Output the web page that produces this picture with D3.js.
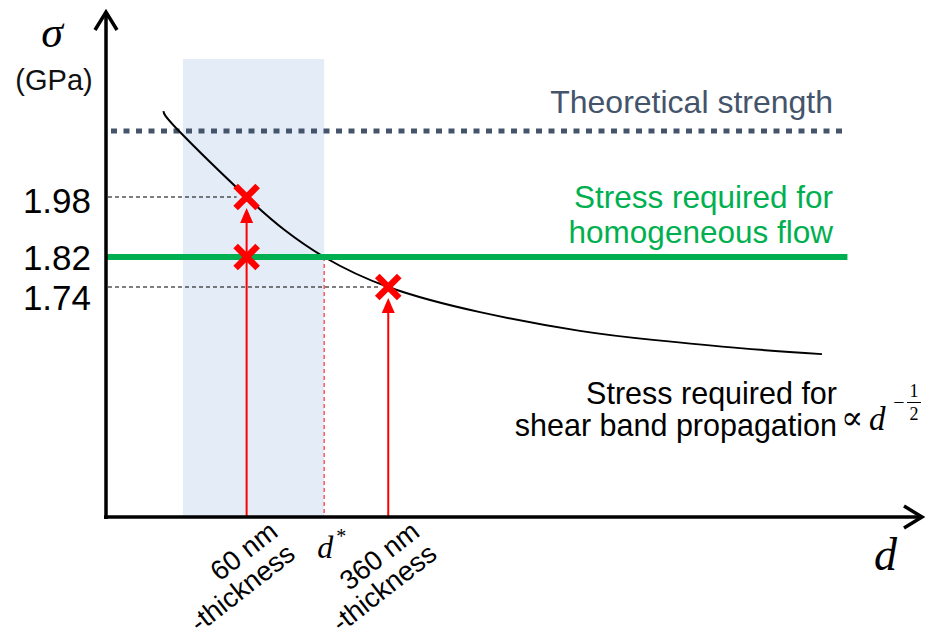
<!DOCTYPE html>
<html>
<head>
<meta charset="utf-8">
<script src="https://cdn.jsdelivr.net/npm/d3@7/dist/d3.min.js"></script>
<style>
  html, body { margin: 0; padding: 0; background: #fff; }
  svg { display: block; }
  .sans { font-family: "Liberation Sans", Arial, sans-serif; }
  .math { font-family: "Liberation Serif", "DejaVu Serif", serif; font-style: italic; }
</style>
</head>
<body>
<svg id="chart" width="928" height="644"></svg>
<script>
// Grain size d (nm) and the stress required for shear band propagation (GPa)
const curveD     = [21, 25.5, 60, 97, 160, 360, 1150, 4070, 10250, 30800, 87000];
const curveSigma = [2.209, 2.156, 1.98, 1.892, 1.82, 1.74, 1.673, 1.623, 1.599, 1.577, 1.561];

// Reference stress levels (GPa)
const theoreticalStrength = 2.156;
const homogeneousFlow = 1.82;
const yTickValues = [1.98, 1.82, 1.74];

// Tested thicknesses and the measured stresses (GPa)
const samples      = [60, 60, 360];
const sampleSigma  = [1.98, 1.82, 1.74];
const arrowSamples = [60, 360];
const arrowTarget  = [1.98, 1.74];
const sampleLabels = [["60 nm", "-thickness"], ["360 nm", "-thickness"]];

// Critical size where the two mechanisms cross, and the shaded size window
const dStar = 160;
const bandD = [26.8, 160];
const bandTop = 2.348;
const lineEndD = 1.2e5;

const svg = d3.select("#chart");

const x = d3.scaleLog().domain([10, 1e5]).range([105, 833]);
const y = d3.scaleLinear().domain([1.74, 1.98]).range([287, 197]);
const x0 = x(10) + 1, y0 = 517;

// shaded window
svg.append("rect")
  .attr("x", x(bandD[0])).attr("y", y(bandTop))
  .attr("width", x(bandD[1]) - x(bandD[0]))
  .attr("height", y0 - y(bandTop))
  .attr("fill", "#e4ecf7");

// theoretical strength (dotted)
svg.append("line")
  .attr("x1", x0 + 5).attr("x2", x(lineEndD))
  .attr("y1", y(theoreticalStrength)).attr("y2", y(theoreticalStrength))
  .attr("stroke", "#44546a").attr("stroke-width", 5)
  .attr("stroke-dasharray", "6,6.5");

// guide lines to the y labels
[[1.98, 60], [1.74, 360]].forEach(([s, d]) => {
  svg.append("line")
    .attr("x1", x0 + 2).attr("x2", x(d) - 10)
    .attr("y1", y(s)).attr("y2", y(s))
    .attr("stroke", "#000").attr("stroke-width", 1.2)
    .attr("stroke-dasharray", "4,3");
});

// d* guide
svg.append("line")
  .attr("x1", x(dStar)).attr("x2", x(dStar))
  .attr("y1", y(homogeneousFlow)).attr("y2", y0)
  .attr("stroke", "#ff3030").attr("stroke-width", 1.2)
  .attr("stroke-dasharray", "4,3");

// shear band propagation curve
const pts = curveD.map((d, i) => [d, curveSigma[i]]);
svg.append("path")
  .datum(pts)
  .attr("d", d3.line().x(p => x(p[0])).y(p => y(p[1])).curve(d3.curveNatural))
  .attr("fill", "none").attr("stroke", "#000").attr("stroke-width", 2);

// homogeneous flow level
svg.append("line")
  .attr("x1", x0).attr("x2", x(lineEndD))
  .attr("y1", y(homogeneousFlow)).attr("y2", y(homogeneousFlow))
  .attr("stroke", "#00b050").attr("stroke-width", 6);

// red arrows from the axis to the measured stresses
arrowSamples.forEach((d, i) => {
  const tip = y(arrowTarget[i]) + 11;
  const xx = x(d);
  svg.append("line")
    .attr("x1", xx).attr("x2", xx)
    .attr("y1", y0).attr("y2", tip + 12)
    .attr("stroke", "#ff0000").attr("stroke-width", 2);
  svg.append("path")
    .attr("d", `M${xx},${tip} L${xx - 6.5},${tip + 15} L${xx + 6.5},${tip + 15} Z`)
    .attr("fill", "#ff0000");
});

// crosses
samples.forEach((d, i) => {
  const cx = x(d), cy = y(sampleSigma[i]), r = 11;
  svg.append("path")
    .attr("d", `M${cx - r},${cy - r} L${cx + r},${cy + r} M${cx - r},${cy + r} L${cx + r},${cy - r}`)
    .attr("stroke", "#ff0000").attr("stroke-width", 6.5).attr("fill", "none");
});

// axes with open arrowheads
svg.append("line").attr("x1", x0).attr("x2", x0).attr("y1", y0 + 2).attr("y2", 12)
  .attr("stroke", "#000").attr("stroke-width", 3.5);
svg.append("path").attr("d", `M${x0 - 11},${30} L${x0},${12} L${x0 + 11},${30}`)
  .attr("stroke", "#000").attr("stroke-width", 3.5).attr("fill", "none");
svg.append("line").attr("x1", x0 - 2).attr("x2", 922).attr("y1", y0).attr("y2", y0)
  .attr("stroke", "#000").attr("stroke-width", 3.5);
svg.append("path").attr("d", `M${904},${y0 - 11} L${922},${y0} L${904},${y0 + 11}`)
  .attr("stroke", "#000").attr("stroke-width", 3.5).attr("fill", "none");

// y tick labels
const tickOffset = {1.98: 16, 1.82: 13, 1.74: 23};
svg.selectAll(".ytick").data(yTickValues).enter().append("text")
  .attr("class", "sans")
  .attr("x", 91).attr("y", v => y(v) + tickOffset[v])
  .attr("text-anchor", "end").attr("font-size", 35).attr("fill", "#000")
  .text(v => v.toFixed(2));

// axis titles
svg.append("text").attr("class", "math").attr("x", 52).attr("y", 47)
  .attr("text-anchor", "middle").attr("font-size", 44).text("σ");
svg.append("text").attr("class", "sans").attr("x", 54).attr("y", 90)
  .attr("text-anchor", "middle").attr("font-size", 29).attr("fill", "#111").text("(GPa)");
svg.append("text").attr("class", "math").attr("x", 874).attr("y", 570)
  .attr("font-size", 46).text("d");

// d* label
const ds = svg.append("text").attr("class", "math").attr("x", x(dStar) - 7).attr("y", 558)
  .attr("font-size", 32);
ds.append("tspan").text("d");
ds.append("tspan").attr("dx", 3).attr("dy", -15).attr("font-size", 20).attr("font-style", "normal").text("*");

// rotated thickness labels
arrowSamples.forEach((d, i) => {
  const g = svg.append("g")
    .attr("transform", `translate(${x(d) + 33},${535}) rotate(-38)`);
  sampleLabels[i].forEach((t, j) => {
    g.append("text").attr("class", "sans")
      .attr("x", 0).attr("y", j * 28)
      .attr("text-anchor", "end").attr("font-size", 27.5).attr("fill", "#000")
      .text(t);
  });
});

// series labels
svg.append("text").attr("class", "sans").attr("x", 833).attr("y", 113)
  .attr("text-anchor", "end").attr("font-size", 32).attr("fill", "#44546a")
  .text("Theoretical strength");
["Stress required for", "homogeneous flow"].forEach((t, j) => {
  svg.append("text").attr("class", "sans").attr("x", 833).attr("y", 208 + j * 35)
    .attr("text-anchor", "end").attr("font-size", 31.5).attr("fill", "#00b050").text(t);
});
["Stress required for", "shear band propagation"].forEach((t, j) => {
  svg.append("text").attr("class", "sans").attr("x", 837).attr("y", 404 + j * 32)
    .attr("text-anchor", "end").attr("font-size", 30.5).attr("fill", "#000").text(t);
});

// proportionality d^(-1/2)
svg.append("text").attr("x", 841).attr("y", 429)
  .attr("font-family", "'DejaVu Serif', serif").attr("font-size", 33).text("∝");
svg.append("text").attr("class", "math").attr("x", 869).attr("y", 430)
  .attr("font-size", 33).text("d");
svg.append("text").attr("x", 899).attr("y", 409)
  .attr("font-family", "'Liberation Serif', serif").attr("font-size", 20)
  .attr("text-anchor", "middle").text("−");
svg.append("line").attr("x1", 907).attr("x2", 921).attr("y1", 402.5).attr("y2", 402.5)
  .attr("stroke", "#000").attr("stroke-width", 1);
svg.append("text").attr("x", 914).attr("y", 397)
  .attr("font-family", "'Liberation Serif', serif").attr("font-size", 18)
  .attr("text-anchor", "middle").text("1");
svg.append("text").attr("x", 914).attr("y", 420)
  .attr("font-family", "'Liberation Serif', serif").attr("font-size", 18)
  .attr("text-anchor", "middle").text("2");
</script>
</body>
</html>
